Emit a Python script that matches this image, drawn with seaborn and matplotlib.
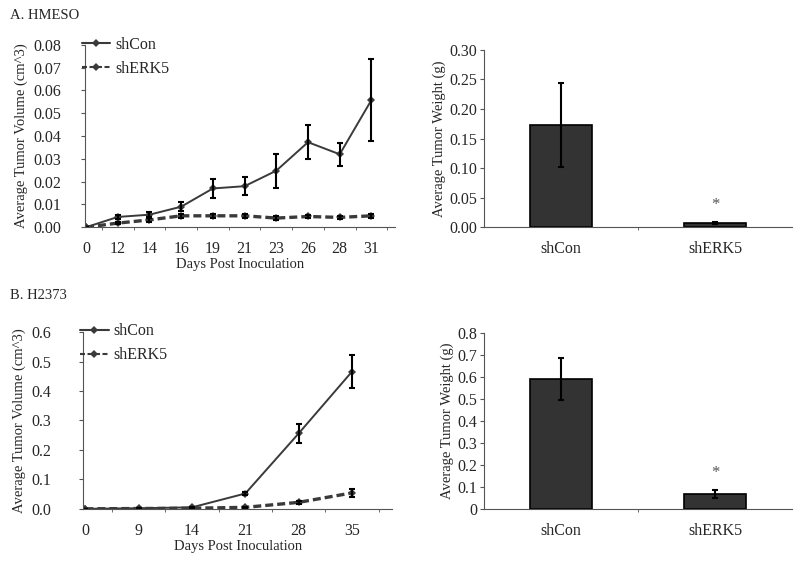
import numpy as np
import pandas as pd
import matplotlib
matplotlib.use("Agg")
import matplotlib.pyplot as plt
import seaborn as sns

# HMESO tumor volume (cm^3)
days_a = ["0", "12", "14", "16", "19", "21", "23", "26", "28", "31"]
con_a = [0.0, 0.0045, 0.0055, 0.009, 0.017, 0.018, 0.0248, 0.0373, 0.032, 0.0558]
con_a_err = [0.0, 0.001, 0.001, 0.002, 0.004, 0.004, 0.0075, 0.0075, 0.005, 0.018]
erk_a = [0.0, 0.0018, 0.0032, 0.005, 0.005, 0.005, 0.004, 0.0047, 0.0043, 0.005]
erk_a_err = [0.0, 0.0005, 0.0007, 0.001, 0.0008, 0.0008, 0.0007, 0.0008, 0.0008, 0.001]
ticks_a = ["0.00", "0.01", "0.02", "0.03", "0.04", "0.05", "0.06", "0.07", "0.08"]

# HMESO tumor weight (g)
groups = ["shCon", "shERK5"]
wt_a = [0.173, 0.007]
wt_a_err = [0.071, 0.002]
wticks_a = ["0.00", "0.05", "0.10", "0.15", "0.20", "0.25", "0.30"]

# H2373 tumor volume (cm^3)
days_b = ["0", "9", "14", "21", "28", "35"]
con_b = [0.0, 0.002, 0.005, 0.052, 0.256, 0.466]
con_b_err = [0.0, 0.001, 0.002, 0.005, 0.033, 0.056]
erk_b = [0.0, 0.001, 0.002, 0.005, 0.022, 0.054]
erk_b_err = [0.0, 0.0005, 0.001, 0.002, 0.005, 0.013]
ticks_b = ["0.0", "0.1", "0.2", "0.3", "0.4", "0.5", "0.6"]

# H2373 tumor weight (g)
wt_b = [0.59, 0.068]
wt_b_err = [0.095, 0.017]
wticks_b = ["0", "0.1", "0.2", "0.3", "0.4", "0.5", "0.6", "0.7", "0.8"]

sns.set_style("ticks")
plt.rcParams['font.family'] = ['Liberation Serif', 'DejaVu Serif']
plt.rcParams['font.size'] = 11

LINE = "#3a3a3a"
BAR = "#333333"
TICK_FS = 11.5
LABEL_FS = 10.5

fig = plt.figure(figsize=(8, 5.61), dpi=100)


def style_axes(ax, ymax, ystep, labels, ypad):
    ax.set_ylim(0, ymax)
    ax.set_yticks(np.arange(len(labels)) * ystep)
    ax.set_yticklabels(labels, fontsize=TICK_FS)
    ax.tick_params(axis="y", length=3, pad=ypad, color="#555555")
    ax.tick_params(axis="x", which="major", length=0, pad=10, labelsize=TICK_FS)
    ax.tick_params(axis="x", which="minor", length=2.5, color="#555555")
    sns.despine(ax=ax)
    for s in ax.spines.values():
        s.set_color("#555555")
        s.set_linewidth(0.8)


def volume_panel(rect, days, con, con_err, erk, erk_err, ymax, ystep, labels, ypad, leg_y):
    ax = fig.add_axes(rect)
    n = len(days)
    df = pd.DataFrame({
        "pos": list(range(n)) * 2,
        "vol": con + erk,
        "group": ["shCon"] * n + ["shERK5"] * n,
    })
    sns.lineplot(data=df, x="pos", y="vol", style="group", ax=ax,
                 color=LINE, markers={"shCon": "D", "shERK5": "D"},
                 dashes={"shCon": "", "shERK5": (2.4, 1.2)},
                 markersize=4, markeredgewidth=0)
    for line, w in zip(ax.lines, [1.4, 2.4]):
        line.set_linewidth(w)
    ax.errorbar(range(n), con, yerr=con_err, fmt="none", ecolor="black",
                elinewidth=1.5, capsize=2.5, capthick=1.5)
    ax.errorbar(range(n), erk, yerr=erk_err, fmt="none", ecolor="black",
                elinewidth=1.5, capsize=2.5, capthick=1.5)
    ax.set_xlim(-0.04, n - 0.25)
    ax.set_xticks(range(n))
    ax.set_xticklabels(days)
    ax.set_xticks(np.arange(n) + 0.5, minor=True)
    style_axes(ax, ymax, ystep, labels, ypad)
    ax.set_xlabel("Days Post Inoculation", labelpad=1, fontsize=LABEL_FS)
    ax.set_ylabel("Average Tumor Volume (cm^3)", labelpad=4, fontsize=LABEL_FS)
    leg = ax.legend(frameon=False, loc="upper left", bbox_to_anchor=(-0.01, leg_y),
                    handlelength=1.8, handletextpad=0.3, labelspacing=0.5,
                    borderpad=0, borderaxespad=0, fontsize=TICK_FS)
    for h in leg.legend_handles:
        h.set_color(LINE)
    return ax


def weight_panel(rect, wt, wt_err, ymax, ystep, labels, star_y):
    ax = fig.add_axes(rect)
    df = pd.DataFrame({"group": groups, "wt": wt})
    sns.barplot(data=df, x="group", y="wt", ax=ax, color=BAR, width=0.4,
                edgecolor="black", linewidth=1.2, saturation=1)
    ax.errorbar(range(2), wt, yerr=wt_err, fmt="none", ecolor="black",
                elinewidth=1.5, capsize=2.5, capthick=1.5)
    ax.text(1, star_y, "*", ha="center", va="center", fontsize=12, color="#555555")
    ax.set_xlim(-0.5, 1.5)
    ax.set_xticks([0.5], minor=True)
    style_axes(ax, ymax, ystep, labels, 2)
    ax.set_xlabel("")
    ax.set_ylabel("Average Tumor Weight (g)", labelpad=2, fontsize=LABEL_FS)
    return ax


volume_panel([0.106, 0.595, 0.388, 0.325], days_a, con_a, con_a_err,
             erk_a, erk_a_err, 0.08, 0.01, ticks_a, 14, 1.045)
weight_panel([0.605, 0.595, 0.385, 0.316], wt_a, wt_a_err, 0.30, 0.05, wticks_a, 0.037)
volume_panel([0.104, 0.093, 0.386, 0.315], days_b, con_b, con_b_err,
             erk_b, erk_b_err, 0.6, 0.1, ticks_b, 20, 1.05)
weight_panel([0.605, 0.093, 0.385, 0.313], wt_b, wt_b_err, 0.8, 0.1, wticks_b, 0.165)

fig.text(0.012, 0.973, "A. HMESO", fontsize=LABEL_FS, va="center")
fig.text(0.012, 0.474, "B. H2373", fontsize=LABEL_FS, va="center")

fig.savefig("out.png", dpi=100)
